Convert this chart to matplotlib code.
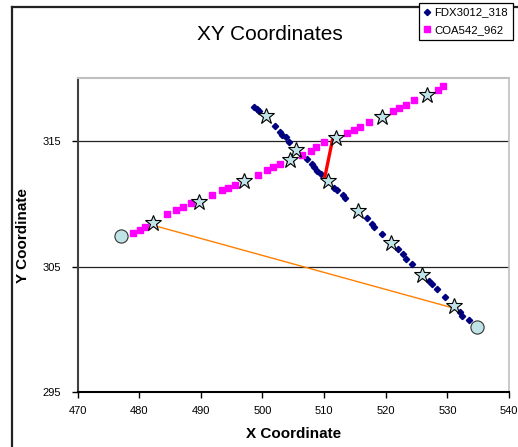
import numpy as np
import matplotlib
matplotlib.use('Agg')
from matplotlib import pyplot as plt
from matplotlib.lines import Line2D

plt.rcParams['font.family'] = ['Liberation Sans', 'DejaVu Sans']

# FDX3012_318 track (navy diamonds)
fdx_x = [498.7, 499.1, 499.45, 500.6, 502.04, 502.8, 503.2, 503.8, 504.36, 505.4,
         507.18, 507.99, 508.36, 508.8, 509.5, 510.58, 511.65, 512.14, 513.01, 513.39,
         515.54, 517.0, 517.71, 518.14, 519.33, 520.79, 521.93, 522.74, 523.23, 524.29,
         525.92, 527.0, 527.54, 528.3, 529.6, 531.05, 532.02, 532.4, 533.53]
fdx_y = [317.7, 317.56, 317.4, 316.95, 316.21, 315.68, 315.48, 315.29, 314.92, 314.29,
         313.57, 313.12, 312.9, 312.64, 312.33, 311.79, 311.27, 311.06, 310.71, 310.48,
         309.41, 308.83, 308.41, 308.14, 307.62, 306.9, 306.37, 306.02, 305.63, 305.18,
         304.37, 303.86, 303.65, 303.25, 302.59, 301.87, 301.35, 301.08, 300.74]

# COA542_962 track (magenta squares)
coa_x = [478.98, 480.16, 480.97, 482.32, 484.59, 486.0, 487.18, 488.43, 489.72, 491.83,
         493.5, 494.47, 495.56, 497.02, 499.34, 500.7, 501.67, 502.85, 504.52, 506.37,
         507.83, 508.69, 509.98, 511.93, 513.76, 514.85, 515.82, 517.28, 519.34, 521.12,
         522.09, 523.27, 524.57, 526.73, 528.41, 529.32]
coa_y = [307.67, 307.88, 308.14, 308.49, 309.15, 309.47, 309.73, 310.05, 310.16, 310.66,
         311.06, 311.27, 311.45, 311.77, 312.3, 312.72, 312.9, 313.14, 313.44, 313.91,
         314.23, 314.55, 314.89, 315.21, 315.63, 315.9, 316.08, 316.53, 316.93, 317.38,
         317.64, 317.88, 318.28, 318.67, 319.07, 319.37]

# sampled points (stars)
fdx_star_x = [500.58, 505.4, 510.58, 515.54, 520.79, 525.92, 531.05]
fdx_star_y = [316.95, 314.29, 311.79, 309.41, 306.9, 304.37, 301.87]
coa_star_x = [482.32, 489.72, 497.02, 504.52, 511.93, 519.34, 526.73]
coa_star_y = [308.49, 310.16, 311.77, 313.44, 315.21, 316.93, 318.67]

# end points (circles)
end_x = [477.03, 534.73]
end_y = [307.4, 300.16]

# connecting segments
red_x = [511.4, 510.03]
red_y = [315.16, 311.9]
orange_x = [482.3, 531.2]
orange_y = [308.28, 301.67]

fig = plt.figure(figsize=(5.18, 4.47), dpi=100)
ax = fig.add_axes([77.5/518, 1 - 392.3/447, (509 - 77.5)/518, (392.3 - 78)/447])

star_fc = '#bfe3e6'
ax.plot(fdx_x, fdx_y, ls='none', marker='D', ms=3.2, color='#000080', mec='#000080',
        label='FDX3012_318', zorder=3)
ax.plot(coa_x, coa_y, ls='none', marker='s', ms=4.0, color='#ff00ff', mec='#ff00ff',
        label='COA542_962', zorder=3)
ax.plot(red_x, red_y, color='#ff0000', lw=2.4, zorder=4, solid_capstyle='butt')
ax.plot(orange_x, orange_y, color='#ff7f00', lw=1.0, zorder=4)
ax.plot(fdx_star_x + coa_star_x, fdx_star_y + coa_star_y, ls='none', marker='*', ms=12,
        mfc=star_fc, mec='black', mew=0.8, zorder=5)
ax.plot(end_x, end_y, ls='none', marker='o', ms=9.5, mfc=star_fc, mec='#333333',
        mew=0.8, zorder=5)

ax.set_xlim(470, 540)
ax.set_ylim(295, 320)
ax.set_xticks(np.arange(470, 541, 10))
ax.set_yticks([295, 305, 315])
for yv in [305, 315]:
    ax.axhline(yv, color='#222222', lw=0.9, zorder=1)

ax.tick_params(axis='both', labelsize=8, length=4, width=1, direction='out')
ax.tick_params(axis='y', pad=8)
ax.tick_params(axis='x', pad=6)
ax.spines['top'].set_color('#c0c0c0')
ax.spines['right'].set_color('#c0c0c0')
ax.spines['top'].set_linewidth(1.5)
ax.spines['right'].set_linewidth(1.2)
ax.spines['left'].set_color('#404040')
ax.spines['left'].set_linewidth(1.5)
ax.spines['bottom'].set_color('black')
ax.spines['bottom'].set_linewidth(1.5)

ax.set_xlabel('X Coordinate', fontsize=11, fontweight='bold', labelpad=8)
ax.set_ylabel('Y Coordinate', fontsize=11, fontweight='bold')
ax.yaxis.set_label_coords((30 - 77.5) / 431.5, 0.5)
fig.text(270/518, 1 - 35/447, 'XY Coordinates', fontsize=15, ha='center', va='center')

# outer chart border (left and top edges visible)
fig.add_artist(Line2D([11.7/518, 11.7/518], [0, 1 - 6.7/447], color='#222222', lw=1.6,
                      transform=fig.transFigure))
fig.add_artist(Line2D([11.7/518, 1], [1 - 6.7/447, 1 - 6.7/447], color='#222222', lw=1.6,
                      transform=fig.transFigure))

leg = fig.legend(loc='upper left', bbox_to_anchor=(419/518, 1 - 3/447), fontsize=8.2,
                 frameon=True, fancybox=False, edgecolor='black', framealpha=1,
                 borderpad=0.4, handlelength=0.6, handletextpad=0.35, labelspacing=0.65,
                 borderaxespad=0)
leg.get_frame().set_linewidth(0.9)
leg.set_zorder(10)

fig.savefig('out.png', dpi=100)
